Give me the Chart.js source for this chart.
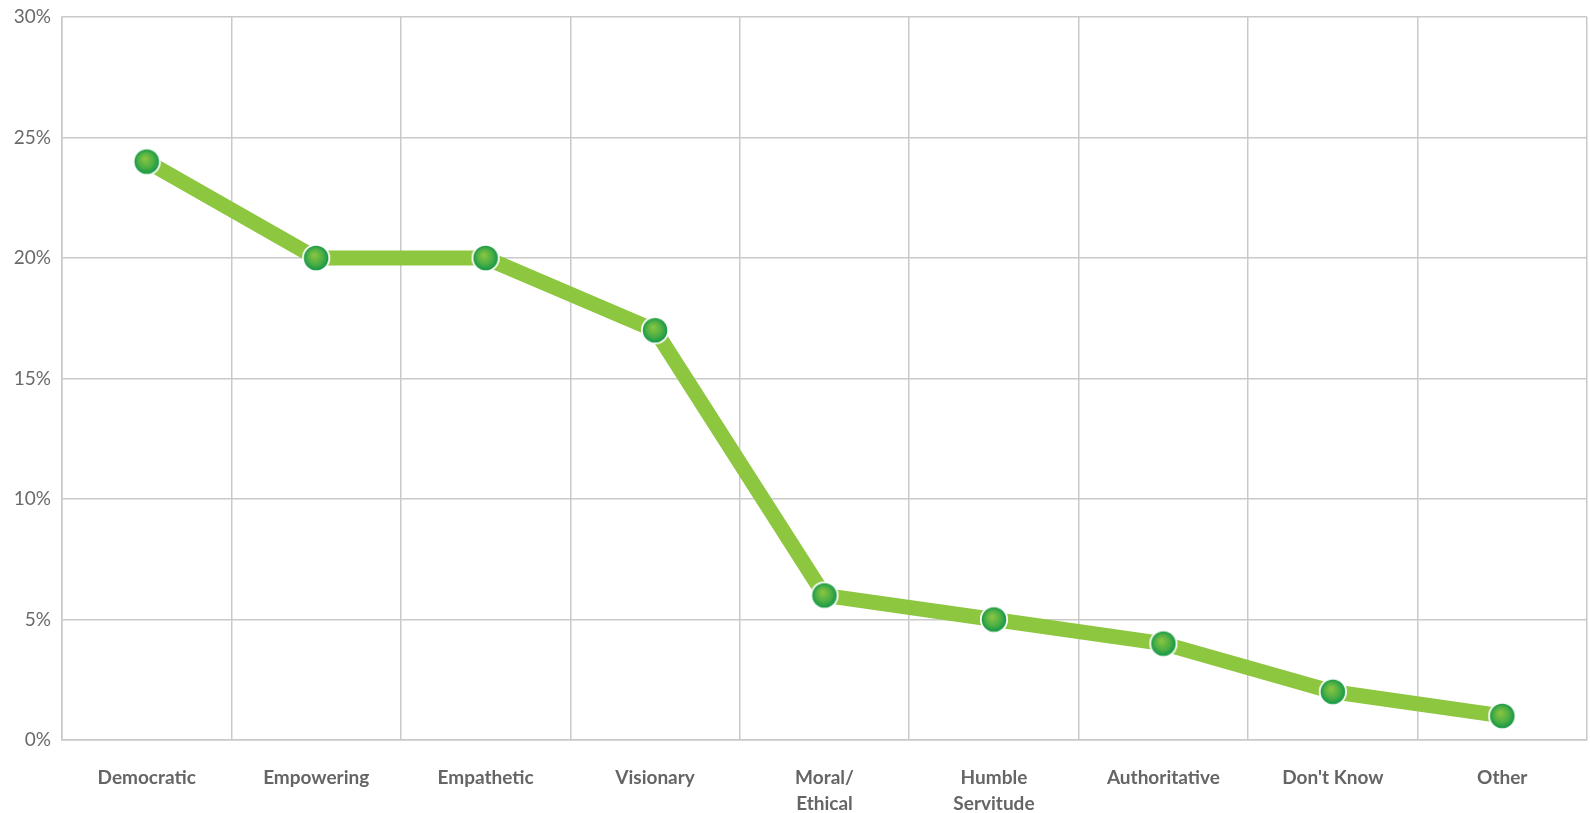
<!DOCTYPE html>
<html>
<head>
<meta charset="utf-8">
<script src="https://cdn.jsdelivr.net/npm/chart.js@4/dist/chart.umd.min.js"></script>
<style>
    html, body { margin: 0; padding: 0; background: #fff; overflow: hidden; }
    #wrap { width: 1590px; height: 813px; }
</style>
</head>
<body>
<div id="wrap"><canvas id="style-chart"></canvas></div>
<script>
const categories = [
    "Democratic", "Empowering", "Empathetic", "Visionary",
    ["Moral/", "Ethical"], ["Humble", "Servitude"], "Authoritative", "Don't Know", "Other"
];
const shares = [24, 20, 20, 17, 6, 5, 4, 2, 1];
const yTicks = [0, 5, 10, 15, 20, 25, 30];

// shaded green marker drawn once, used as the point style
function makeMarker() {
    const r = 13.2;
    const size = 32;
    const c = document.createElement('canvas');
    c.width = size;
    c.height = size;
    const g = c.getContext('2d');
    const cx = size / 2, cy = size / 2;
    const grad = g.createRadialGradient(cx - 2, cy - 3, 1, cx, cy, r);
    grad.addColorStop(0, '#86c441');
    grad.addColorStop(0.55, '#4daf45');
    grad.addColorStop(1, '#0c9447');
    g.beginPath();
    g.arc(cx, cy, r, 0, Math.PI * 2);
    g.fillStyle = grad;
    g.fill();
    g.lineWidth = 1.8;
    g.strokeStyle = '#ffffff';
    g.stroke();
    return c;
}

const ctx = document.getElementById('style-chart');

new Chart(ctx, {
    type: 'line',
    data: {
        labels: categories,
        datasets: [{
            data: shares,
            borderColor: '#8dc63f',
            borderWidth: 15,
            borderJoinStyle: 'round',
            tension: 0,
            pointStyle: makeMarker(),
            pointRadius: 14,
            pointHoverRadius: 14
        }]
    },
    options: {
        responsive: true,
        maintainAspectRatio: false,
        animation: false,
        layout: {
            autoPadding: false,
            padding: { top: 17, right: 3, left: 0, bottom: 0 }
        },
        plugins: {
            legend: { display: false },
            tooltip: { enabled: false }
        },
        scales: {
            x: {
                offset: true,
                grid: { offset: true, color: '#c9c9c9', lineWidth: 1.5, drawTicks: false },
                border: { color: '#c9c9c9', width: 1.5 },
                ticks: {
                    color: '#656565',
                    padding: 25,
                    maxRotation: 0,
                    font: { family: 'Lato', size: 19, weight: 'bold', lineHeight: 1.35 }
                },
                afterFit: (axis) => {
                    axis.height = 73;
                    axis.paddingLeft = 0;
                    axis.paddingRight = 0;
                }
            },
            y: {
                min: 0,
                max: 30,
                afterBuildTicks: (axis) => { axis.ticks = yTicks.map(v => ({ value: v })); },
                grid: { color: '#c9c9c9', lineWidth: 1.5, drawTicks: false },
                border: { color: '#c9c9c9', width: 1.5 },
                ticks: {
                    color: '#6a6a6a',
                    padding: 11,
                    font: { family: 'Lato', size: 19 },
                    callback: (v) => v + '%'
                },
                afterFit: (axis) => {
                    axis.width = 62;
                    axis.paddingTop = 0;
                    axis.paddingBottom = 0;
                }
            }
        }
    }
});
</script>
</body>
</html>
